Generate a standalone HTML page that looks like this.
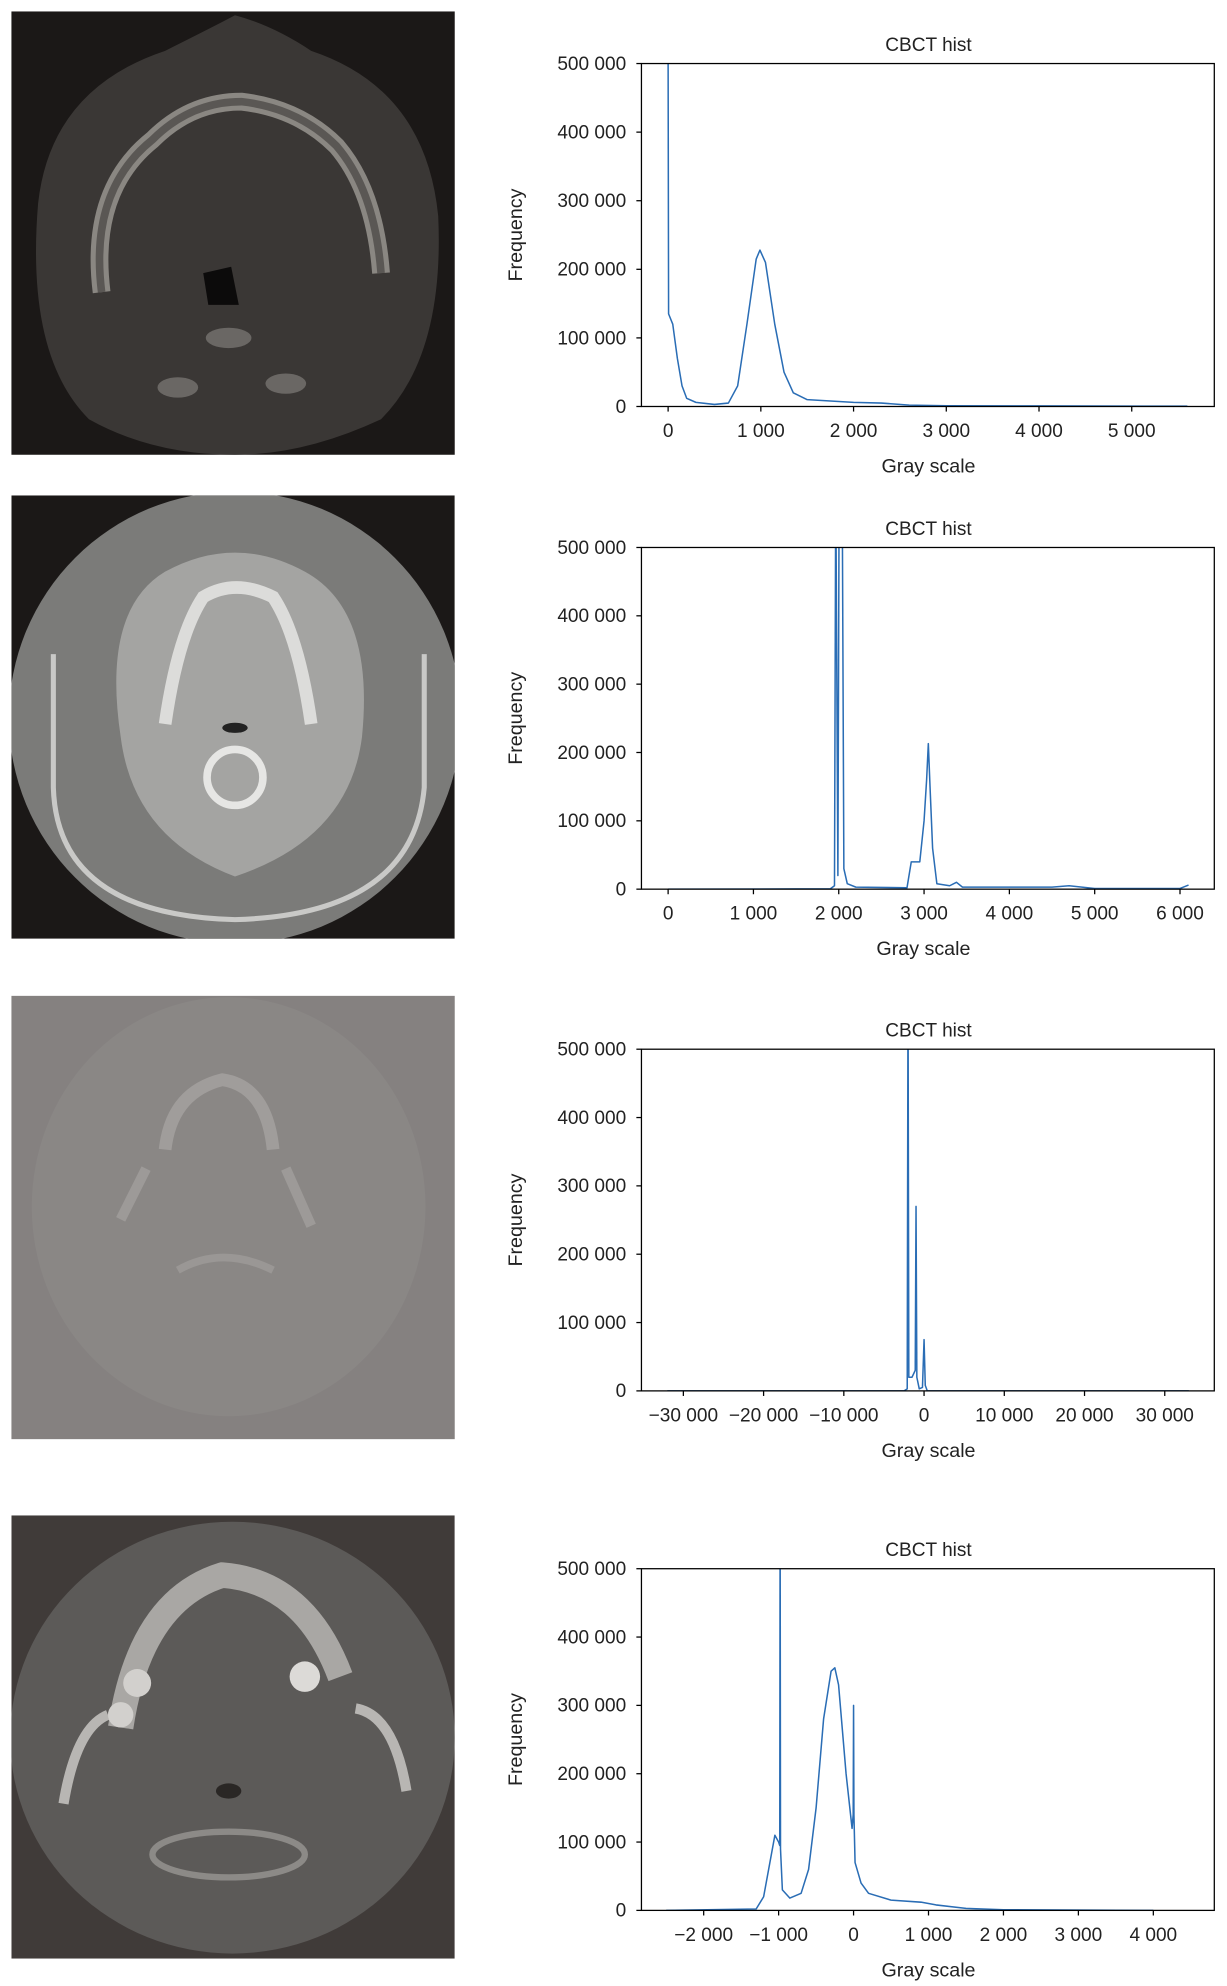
<!DOCTYPE html>
<html><head><meta charset="utf-8"><style>
html,body{margin:0;padding:0;background:#fff;}
svg{display:block;font-family:"Liberation Sans",sans-serif;}
</style></head><body>
<svg id="fig" width="1227" height="1986" viewBox="0 0 966 1563.5" xmlns="http://www.w3.org/2000/svg">
<defs>
<clipPath id="im2"><rect x="9" y="390" width="349" height="349"/></clipPath>
<clipPath id="im4"><rect x="9" y="1193" width="349" height="349"/></clipPath>
</defs>
<g>
<rect x="9" y="9" width="349" height="349" fill="#1b1817"/>
<path d="M30 160 Q40 70 130 40 Q170 20 185 12 Q215 20 245 40 Q335 70 345 170 Q350 280 300 330 Q240 358 185 358 Q120 358 70 330 Q20 280 30 160Z" fill="#3a3735"/>
<path d="M80 230 Q70 150 120 110 Q150 80 190 80 Q235 85 265 115 Q295 150 300 215" fill="none" stroke="#8a8782" stroke-width="14"/>
<path d="M80 230 Q70 150 120 110 Q150 80 190 80 Q235 85 265 115 Q295 150 300 215" fill="none" stroke="#5a5754" stroke-width="6"/>
<path d="M160 215 L182 210 L188 240 L164 240Z" fill="#0c0b0b"/>
<ellipse cx="180" cy="266" rx="18" ry="8" fill="#6a6764"/>
<ellipse cx="140" cy="305" rx="16" ry="8" fill="#6a6764"/>
<ellipse cx="225" cy="302" rx="16" ry="8" fill="#6a6764"/>
</g>
<g clip-path="url(#im2)">
<rect x="9" y="390" width="349" height="349" fill="#1b1817"/>
<circle cx="185" cy="565" r="178" fill="#7b7b79"/>
<path d="M42 515 L42 620 Q45 720 185 724 Q325 720 334 620 L334 515" fill="none" stroke="#c9c9c7" stroke-width="4"/>
<path d="M95 580 Q80 480 130 450 Q185 420 240 450 Q295 480 285 580 Q275 660 185 690 Q105 660 95 580Z" fill="#a4a4a2"/>
<path d="M130 570 Q140 500 160 470 Q185 455 215 470 Q235 500 245 570" fill="none" stroke="#dcdcda" stroke-width="10"/>
<circle cx="185" cy="612" r="22" fill="none" stroke="#e6e6e4" stroke-width="6"/>
<ellipse cx="185" cy="573" rx="10" ry="4" fill="#222"/>
</g>
<g>
<rect x="9" y="784" width="349" height="349" fill="#858180"/>
<ellipse cx="180" cy="950" rx="155" ry="165" fill="#8a8785"/>
<path d="M130 905 Q135 860 175 850 Q210 855 215 905" fill="none" stroke="#a09d9b" stroke-width="10"/>
<path d="M95 960 L115 920 M225 920 L245 965" stroke="#9d9a98" stroke-width="8"/>
<path d="M140 1000 Q175 980 215 1000" fill="none" stroke="#9a9795" stroke-width="6"/>
</g>
<g clip-path="url(#im4)">
<rect x="9" y="1193" width="349" height="349" fill="#403b39"/>
<ellipse cx="183" cy="1368" rx="175" ry="170" fill="#5c5a58"/>
<path d="M95 1360 Q110 1260 175 1240 Q240 1245 268 1320" fill="none" stroke="#a9a7a4" stroke-width="20"/>
<path d="M50 1420 Q60 1360 85 1350 M320 1410 Q310 1350 280 1345" fill="none" stroke="#b8b6b3" stroke-width="8"/>
<circle cx="240" cy="1320" r="12" fill="#dcdad7"/>
<circle cx="95" cy="1350" r="10" fill="#d2d0cd"/>
<circle cx="108" cy="1325" r="11" fill="#d2d0cd"/>
<ellipse cx="180" cy="1410" rx="10" ry="6" fill="#2a2725"/>
<ellipse cx="180" cy="1460" rx="60" ry="18" fill="none" stroke="#8c8a87" stroke-width="5"/>
</g>
<g id="charts"></g>
</svg>
<script>
// Panel 1 data
const p1X = [0,0,5,50,100,150,200,300,500,650,750,850,950,990,1050,1150,1250,1350,1500,2000,2300,2600,3000,4000,5600];
const p1Y = [600,500,135,120,70,30,12,6,3,5,30,120,215,228,210,120,50,20,10,6,5,2,1,0.8,0.5];
// Panel 2 data
const p2X = [0,1900,1950,1965,1990,2005,2015,2040,2060,2100,2200,2800,2850,2950,3000,3030,3050,3070,3100,3150,3300,3380,3450,4500,4700,5000,6000,6100];
const p2Y = [0,0.5,5,600,20,600,600,600,30,8,3,2,40,40,100,160,213,150,60,8,5,10,3,3,5,1,1,6];
// Panel 3 data
const p3X = [-32000,-2500,-2100,-2000,-1900,-1500,-1100,-1000,-900,-600,-200,0,150,400,33000];
const p3Y = [0,0,3,600,20,20,30,270,20,3,5,75,8,0,0];
// Panel 4 data
const p4X = [-2500,-1300,-1200,-1100,-1050,-1000,-985,-980,-975,-950,-850,-700,-600,-500,-400,-300,-250,-200,-100,-20,-5,0,5,20,100,200,500,900,1100,1500,2000,4000];
const p4Y = [0,2,20,80,110,100,95,600,90,30,18,25,60,150,280,350,355,330,200,120,140,300,140,70,40,25,15,12,8,3,1,0];
const yTicks = [0,100000,200000,300000,400000,500000];
const yTickLabels = ["0","100 000","200 000","300 000","400 000","500 000"];
const p1Ticks = [0,1000,2000,3000,4000,5000];
const p2Ticks = [0,1000,2000,3000,4000,5000,6000];
const p3Ticks = [-30000,-20000,-10000,0,10000,20000,30000];
const p4Ticks = [-2000,-1000,0,1000,2000,3000,4000];

const NS="http://www.w3.org/2000/svg";
const root=document.getElementById('charts');
function fmt(v){const s=Math.abs(v).toString().replace(/\B(?=(\d{3})+(?!\d))/g,' ');return (v<0?'\u2212':'')+s;}
function mk(tag,attrs,parent){const e=document.createElementNS(NS,tag);for(const k in attrs)e.setAttribute(k,attrs[k]);parent.appendChild(e);return e;}
const panels=[
 {X:p1X,Y:p1Y,ticks:p1Ticks,top:50,bot:320,glx:731},
 {X:p2X,Y:p2Y,ticks:p2Ticks,top:431,bot:700,glx:727},
 {X:p3X,Y:p3Y,ticks:p3Ticks,top:826,bot:1095,glx:731},
 {X:p4X,Y:p4Y,ticks:p4Ticks,top:1235,bot:1504,glx:731}
];
const xMaps=[
 v=>526+(v-0)*(599-526)/1000,
 v=>526+(v-0)*(929-526)/6000,
 v=>538+(v+30000)*(917-538)/60000,
 v=>613+(v+1000)*(908-613)/5000
];
panels.forEach((p,i)=>{
 const g=mk('g',{},root);
 
 
 const L=505,R=956,T=p.top,B=p.bot;
 const ys=v=>B-(v/500000)*(B-T);
 const xs=xMaps[i];
 const clip=mk('clipPath',{id:'c'+i},g);
 mk('rect',{x:L,y:T,width:R-L,height:B-T},clip);
 let d='';
 p.X.forEach((x,j)=>{d+=(j?'L':'M')+xs(x).toFixed(2)+' '+ys(p.Y[j]*1000).toFixed(2);});
 const line=mk('path',{d:d,fill:'none',stroke:'#2a6db5','stroke-width':1.2,'stroke-linejoin':'round','clip-path':'url(#c'+i+')'},g);
 
 
 const frame=mk('rect',{x:L,y:T,width:R-L,height:B-T,fill:'none',stroke:'#000','stroke-width':1},g);
 
 
 yTicks.forEach((v,k)=>{
  mk('line',{x1:L-4,x2:L,y1:ys(v),y2:ys(v),stroke:'#000'},g);
  const t=mk('text',{x:L-12,y:ys(v)+5,'text-anchor':'end','font-size':15,fill:'#222'},g);
  t.textContent=yTickLabels[k];
  
  
 });
 p.ticks.forEach(v=>{
  mk('line',{x1:xs(v),x2:xs(v),y1:B,y2:B+4,stroke:'#000'},g);
  const t=mk('text',{x:xs(v),y:B+24,'text-anchor':'middle','font-size':15,fill:'#222'},g);
  t.textContent=fmt(v);
  
  
 });
 const ti=mk('text',{x:731,y:T-10,'text-anchor':'middle','font-size':15,fill:'#222'},g);
 ti.textContent='CBCT hist';
 
 
 const xl=mk('text',{x:p.glx,y:B+52,'text-anchor':'middle','font-size':15.5,fill:'#222'},g);
 xl.textContent='Gray scale';
 
 
 const cy=(T+B)/2;
 const yl=mk('text',{x:0,y:0,'text-anchor':'middle','font-size':15.5,fill:'#222',transform:'translate(411,'+cy+') rotate(-90)'},g);
 yl.textContent='Frequency';
 
 
});
</script>
</body></html>
